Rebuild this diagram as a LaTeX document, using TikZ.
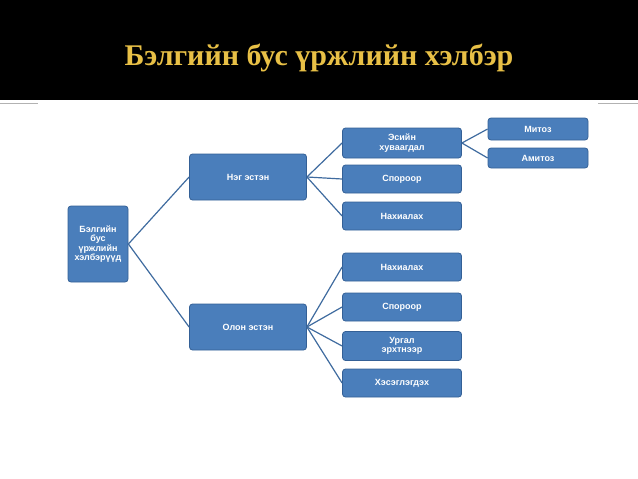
\documentclass[tikz,border=0pt]{standalone}
\usepackage{fontspec}
\setmainfont{Liberation Sans}
\newfontfamily\titlefont{Liberation Serif}
\usetikzlibrary{positioning}
\definecolor{boxblue}{RGB}{74,126,187}
\definecolor{boxedge}{RGB}{52,96,150}
\definecolor{titlegold}{RGB}{232,192,70}
\tikzset{
  leaf/.style={draw=boxedge, fill=boxblue, rounded corners=3pt, line width=0.8pt,
    text=white, font=\bfseries\fontsize{9}{9.5}\selectfont, align=center,
    minimum width=119pt, inner sep=1pt},
  link/.style={draw=boxblue!85!black, line width=1.2pt}
}
\begin{document}
\begin{tikzpicture}[x=1pt,y=-1pt]
  \useasboundingbox (0,0) rectangle (638,479);
  \fill[black] (0,0) rectangle (638,100);
  \draw[gray!60] (0,103) -- (38,103);
  \draw[gray!60] (598,103) -- (638,103);
  \node[text=titlegold, font=\titlefont\bfseries\fontsize{30}{32}\selectfont] (title) at (319,58) {Бэлгийн бус үржлийн хэлбэр};

  % root and level one
  \node[leaf, minimum width=60pt, minimum height=76pt] (root) at (98,244) {Бэлгийн\\бус\\үржлийн\\хэлбэрүүд};
  \node[leaf, minimum width=117pt, minimum height=46pt] (uni) at (248,177) {Нэг эстэн};
  \node[leaf, minimum width=117pt, minimum height=46pt] (multi) at (248,327) {Олон эстэн};

  % level two
  \node[leaf, minimum height=30pt] (cell) at (402,143) {Эсийн\\хуваагдал};
  \node[leaf, minimum height=28pt] (spore1) at (402,179) {Спороор};
  \node[leaf, minimum height=28pt] (bud1) at (402,216) {Нахиалах};
  \node[leaf, minimum height=28pt] (bud2) at (402,267) {Нахиалах};
  \node[leaf, minimum height=28pt] (spore2) at (402,307) {Спороор};
  \node[leaf, minimum height=29pt] (veg) at (402,346) {Ургал\\эрхтнээр};
  \node[leaf, minimum height=28pt] (frag) at (402,383) {Хэсэглэгдэх};

  % level three
  \node[leaf, minimum width=100pt, minimum height=22pt] (mitosis) at (538,129) {Митоз};
  \node[leaf, minimum width=100pt, minimum height=20pt] (amitosis) at (538,158) {Амитоз};

  \draw[link] (root.east) -- (uni.west);
  \draw[link] (root.east) -- (multi.west);
  \foreach \c in {cell,spore1,bud1} \draw[link] (uni.east) -- (\c.west);
  \foreach \c in {bud2,spore2,veg,frag} \draw[link] (multi.east) -- (\c.west);
  \foreach \c in {mitosis,amitosis} \draw[link] (cell.east) -- (\c.west);
\end{tikzpicture}
\end{document}
